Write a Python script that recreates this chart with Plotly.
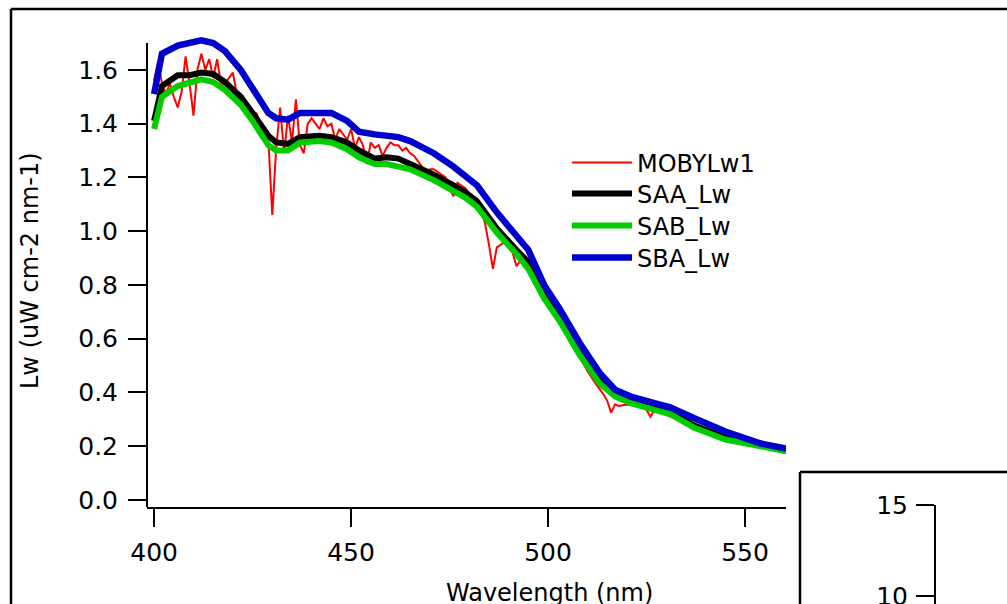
import plotly.graph_objects as go

# MOBY in-situ water-leaving radiance (1 nm steps)
moby_wl = [400, 401, 402, 403, 404, 405, 406, 407, 408, 409, 410, 411, 412, 413, 414,
           415, 416, 417, 418, 419, 420, 421, 422, 423, 424, 425, 426, 427, 428, 429,
           430, 431, 432, 433, 434, 435, 436, 437, 438, 439, 440, 441, 442, 443, 444,
           445, 446, 447, 448, 449, 450, 451, 452, 453, 454, 455, 456, 457, 458, 459,
           460, 461, 462, 463, 464, 465, 466, 467, 468, 469, 470, 471, 472, 473, 474,
           475, 476, 477, 478, 479, 480, 481, 482, 483, 484, 485, 486, 487, 488, 489,
           490, 491, 492, 493, 494, 495, 496, 497, 498, 499, 500, 502, 504, 506, 508,
           510, 512, 514, 515, 516, 517, 518, 520, 522, 524, 525, 526, 527, 529, 531,
           533, 535, 537, 539, 541, 543, 545, 547, 549, 551, 553, 555, 557, 559, 561]
moby_lw = [1.56, 1.63, 1.55, 1.51, 1.55, 1.50, 1.46, 1.52, 1.65, 1.55, 1.43, 1.60, 1.66, 1.60, 1.64,
           1.57, 1.64, 1.54, 1.55, 1.57, 1.59, 1.51, 1.46, 1.44, 1.47, 1.42, 1.44, 1.39, 1.37, 1.34,
           1.06, 1.31, 1.46, 1.29, 1.43, 1.33, 1.49, 1.32, 1.29, 1.40, 1.42, 1.40, 1.38, 1.42, 1.39,
           1.40, 1.34, 1.38, 1.36, 1.34, 1.38, 1.31, 1.35, 1.32, 1.25, 1.33, 1.31, 1.32, 1.28, 1.31,
           1.33, 1.32, 1.32, 1.30, 1.31, 1.29, 1.28, 1.26, 1.24, 1.22, 1.23, 1.23, 1.22, 1.21, 1.20,
           1.16, 1.13, 1.18, 1.17, 1.16, 1.14, 1.13, 1.12, 1.08, 1.03, 0.95, 0.86, 0.94, 0.95, 0.96,
           0.96, 0.92, 0.87, 0.89, 0.88, 0.86, 0.83, 0.81, 0.78, 0.76, 0.745, 0.70, 0.64, 0.585, 0.53,
           0.48, 0.435, 0.395, 0.37, 0.325, 0.355, 0.35, 0.355, 0.35, 0.345, 0.335, 0.31, 0.335, 0.322, 0.312,
           0.298, 0.287, 0.276, 0.264, 0.254, 0.246, 0.236, 0.226, 0.219, 0.211, 0.202, 0.196, 0.189, 0.179, 0.173]

# satellite-derived Lw (coarser sampling)
sat_wl = [400, 402, 406, 409, 412, 415, 418, 422, 425, 429, 431, 434, 437, 442, 445, 449,
          452, 456, 459, 462, 465, 471, 476, 479, 482, 487, 492, 495, 499, 503, 508, 513,
          517, 521, 527, 531, 537, 545, 554, 561]
saa_lw = [1.41, 1.54, 1.58, 1.58, 1.59, 1.585, 1.555, 1.50, 1.44, 1.355, 1.33, 1.325, 1.35, 1.355, 1.35, 1.33,
          1.30, 1.27, 1.275, 1.27, 1.25, 1.21, 1.17, 1.145, 1.11, 1.01, 0.93, 0.885, 0.77, 0.675, 0.55, 0.445,
          0.395, 0.37, 0.343, 0.328, 0.278, 0.232, 0.205, 0.185]
sab_lw = [1.38, 1.50, 1.54, 1.55, 1.565, 1.555, 1.525, 1.47, 1.41, 1.32, 1.30, 1.30, 1.33, 1.335, 1.33, 1.305,
          1.275, 1.25, 1.25, 1.24, 1.23, 1.19, 1.15, 1.125, 1.09, 0.995, 0.915, 0.86, 0.75, 0.665, 0.54, 0.435,
          0.385, 0.36, 0.335, 0.32, 0.27, 0.225, 0.20, 0.18]
sba_lw = [1.51, 1.66, 1.69, 1.70, 1.71, 1.70, 1.67, 1.60, 1.53, 1.44, 1.42, 1.415, 1.44, 1.44, 1.44, 1.41,
          1.37, 1.36, 1.355, 1.35, 1.335, 1.29, 1.24, 1.205, 1.17, 1.07, 0.98, 0.93, 0.80, 0.71, 0.585, 0.475,
          0.41, 0.385, 0.36, 0.345, 0.305, 0.255, 0.21, 0.19]

W, H = 1007, 604
FONT = "DejaVu Sans"
Y_LO, Y_TOP = -0.026, 1.70   # visible y-axis span (axis line drawn between these)


def px(x):
    return x / W


def py(y):
    return 1 - y / H


fig = go.Figure()
fig.add_trace(go.Scatter(x=moby_wl, y=moby_lw, name="MOBYLw1", mode="lines", legend="legend",
                         line=dict(color="#ff0000", width=2)))
fig.add_trace(go.Scatter(x=sat_wl, y=saa_lw, name="SAA_Lw", mode="lines", legend="legend2",
                         line=dict(color="#000000", width=6)))
fig.add_trace(go.Scatter(x=sat_wl, y=sab_lw, name="SAB_Lw", mode="lines", legend="legend3",
                         line=dict(color="#00cc00", width=6)))
fig.add_trace(go.Scatter(x=sat_wl, y=sba_lw, name="SBA_Lw", mode="lines", legend="legend4",
                         line=dict(color="#0000cc", width=6.5)))
# empty trace so the inset axes get drawn
fig.add_trace(go.Scatter(x=[], y=[], xaxis="x2", yaxis="y2", showlegend=False, hoverinfo="skip"))

axis_common = dict(showline=True, linecolor="black", linewidth=2, ticks="outside",
                   ticklen=18, tickwidth=2, tickcolor="black", showgrid=False,
                   zeroline=False, automargin=False, ticklabeloverflow="allow",
                   tickfont=dict(family=FONT, size=25, color="black"))

legend_common = dict(x=px(567), xanchor="left", yanchor="middle", bgcolor="rgba(0,0,0,0)",
                     borderwidth=0, itemwidth=60, font=dict(family=FONT, size=24, color="black"))

# plot area reaches a little above the axis top so the thick blue line isn't cut
y_pad = (Y_TOP - Y_LO) * 8 / 464

fig.update_layout(
    template="none",
    width=W, height=H,
    margin=dict(l=0, r=0, t=0, b=0),
    paper_bgcolor="white", plot_bgcolor="white",
    font=dict(family=FONT, size=24, color="black"),
    xaxis=dict(domain=[px(147), px(786)], range=[398.2, 560.4],
               tickvals=[400, 450, 500, 550], ticklabelstandoff=4, **axis_common),
    yaxis=dict(domain=[py(507), py(35)], range=[Y_LO, Y_TOP + y_pad],
               tickvals=[0, 0.2, 0.4, 0.6, 0.8, 1.0, 1.2, 1.4, 1.6], tickformat=".1f",
               ticklabelstandoff=5, **{**axis_common, "showline": False}),
    # inset panel (only its top is visible)
    xaxis2=dict(domain=[px(936), 1], range=[0, 1], visible=False, anchor="y2"),
    yaxis2=dict(domain=[0, py(505)], range=[9.56, 15], anchor="x2",
                tickvals=[10, 15], ticklabelstandoff=3, **axis_common),
    showlegend=True,
    legend=dict(y=py(163), **legend_common),
    legend2=dict(y=py(194), **legend_common),
    legend3=dict(y=py(226), **legend_common),
    legend4=dict(y=py(258), **legend_common),
    shapes=[
        # y-axis line, ending at the axis top
        dict(type="line", xref="paper", yref="y", x0=px(147), x1=px(147), y0=Y_LO, y1=Y_TOP,
             line=dict(color="black", width=2), layer="below"),
        # outer frame
        dict(type="line", xref="paper", yref="paper", x0=px(11), x1=px(11), y0=-0.01, y1=py(9),
             line=dict(color="black", width=2.5)),
        dict(type="line", xref="paper", yref="paper", x0=px(11), x1=1.01, y0=py(9), y1=py(9),
             line=dict(color="black", width=2.5)),
        # inset frame
        dict(type="line", xref="paper", yref="paper", x0=px(800), x1=px(800), y0=-0.01, y1=py(472),
             line=dict(color="black", width=2.5)),
        dict(type="line", xref="paper", yref="paper", x0=px(800), x1=1.01, y0=py(472), y1=py(472),
             line=dict(color="black", width=2.5)),
    ],
    annotations=[
        dict(text="Wavelength (nm)", xref="paper", yref="paper", x=px(549), y=py(577),
             xanchor="center", yanchor="top", showarrow=False,
             font=dict(family=FONT, size=24, color="black")),
        dict(text="Lw (uW cm-2 nm-1)", xref="paper", yref="paper", x=px(30), y=py(271),
             xanchor="center", yanchor="middle", textangle=-90, showarrow=False,
             font=dict(family=FONT, size=24, color="black")),
    ],
)

# the page's default body margin would shift the figure by 8 px
fig.write_html("out.html", config={"displayModeBar": False},
               post_script="document.body.style.margin = '0';")
